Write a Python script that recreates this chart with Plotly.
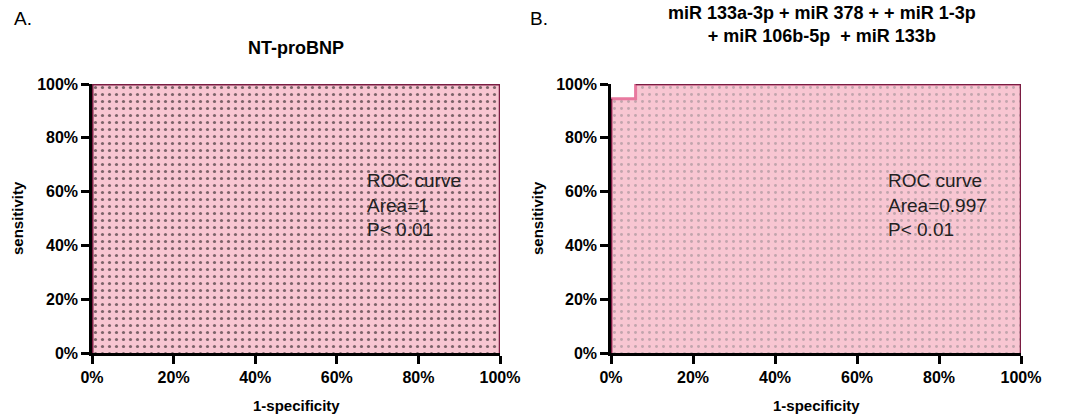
import plotly.graph_objects as go

# Data
fpr_a = [0, 0, 1]
tpr_a = [0, 1, 1]
fpr_b = [0, 0, 0.06, 0.06, 1]
tpr_b = [0, 0.945, 0.945, 1, 1]
tick_vals = [0, 0.2, 0.4, 0.6, 0.8, 1.0]
tick_text = ["0%", "20%", "40%", "60%", "80%", "100%"]
title_a = "NT-proBNP"
title_b = "miR 133a-3p + miR 378 + + miR 1-3p<br>+ miR 106b-5p  + miR 133b"
note_a = "ROC curve<br>Area=1<br>P< 0.01"
note_b = "ROC curve<br>Area=0.997<br>P< 0.01"

W, H = 1069, 415


def px(x):
    return x / W


def py(y):
    return 1 - y / H


fig = go.Figure()
fig.add_trace(go.Scatter(
    x=fpr_a, y=tpr_a, mode="lines", fill="tozeroy",
    line=dict(color="#7a1c42", width=3),
    fillcolor="#f8c6d2",
    fillpattern=dict(shape=".", fgcolor="#000000", bgcolor="#f8c6d2", size=7, solidity=0.16),
    xaxis="x", yaxis="y", showlegend=False, hoverinfo="skip"))
fig.add_trace(go.Scatter(
    x=fpr_b, y=tpr_b, mode="lines", fill="tozeroy",
    line=dict(color="#e8799f", width=3),
    fillcolor="#f8c6d2",
    fillpattern=dict(shape=".", fgcolor="#8c8488", bgcolor="#f8c6d2", size=7, solidity=0.14),
    xaxis="x2", yaxis="y2", showlegend=False, hoverinfo="skip"))
# dark edges
fig.add_trace(go.Scatter(
    x=[0.06, 1, 1], y=[1, 1, 0], mode="lines",
    line=dict(color="#7a1c42", width=2.5),
    xaxis="x2", yaxis="y2", showlegend=False, hoverinfo="skip"))
fig.add_trace(go.Scatter(
    x=[0, 0], y=[0, 0.945], mode="lines",
    line=dict(color="#7a1c42", width=2.5),
    xaxis="x2", yaxis="y2", showlegend=False, hoverinfo="skip"))
fig.add_trace(go.Scatter(
    x=[1, 1], y=[1, 0], mode="lines",
    line=dict(color="#7a1c42", width=2.5),
    xaxis="x", yaxis="y", showlegend=False, hoverinfo="skip"))

font_tick = dict(family="Arial, Liberation Sans, sans-serif", size=16, color="black", weight="bold")
axis_common = dict(
    range=[0, 1], tickvals=tick_vals, ticktext=tick_text, showgrid=False, zeroline=False,
    showline=True, linecolor="black", linewidth=2.5, ticks="outside", ticklen=8, tickwidth=3,
    tickcolor="black", tickfont=font_tick, layer="below traces", fixedrange=True,
    automargin=False)

ydom = [py(353), py(84)]
fig.update_layout(
    width=W, height=H, margin=dict(l=0, r=0, t=0, b=0),
    paper_bgcolor="white", plot_bgcolor="white",
    font=dict(family="Arial, Liberation Sans, sans-serif", color="black"),
    xaxis=dict(domain=[px(92), px(500)], anchor="y", **axis_common),
    yaxis=dict(domain=ydom, anchor="x", **axis_common),
    xaxis2=dict(domain=[px(611), px(1021)], anchor="y2", **axis_common),
    yaxis2=dict(domain=ydom, anchor="x2", **axis_common),
)

ann = [
    dict(text="A.", x=px(12), y=py(19), xref="paper", yref="paper", xanchor="left", yanchor="middle",
         showarrow=False, font=dict(size=19)),
    dict(text="B.", x=px(528), y=py(19), xref="paper", yref="paper", xanchor="left", yanchor="middle",
         showarrow=False, font=dict(size=19)),
    dict(text="<b>" + title_a + "</b>", x=px(296), y=py(48), xref="paper", yref="paper",
         xanchor="center", yanchor="middle", showarrow=False, font=dict(size=18)),
    dict(text="<b>" + title_b + "</b>", x=px(822), y=py(25), xref="paper", yref="paper",
         xanchor="center", yanchor="middle", showarrow=False, font=dict(size=18)),
    dict(text="<b>sensitivity</b>", x=px(17), y=py(218), xref="paper", yref="paper", textangle=-90,
         xanchor="center", yanchor="middle", showarrow=False, font=dict(size=15)),
    dict(text="<b>sensitivity</b>", x=px(537), y=py(218), xref="paper", yref="paper", textangle=-90,
         xanchor="center", yanchor="middle", showarrow=False, font=dict(size=15)),
    dict(text="<b>1-specificity</b>", x=px(296), y=py(405), xref="paper", yref="paper",
         xanchor="center", yanchor="middle", showarrow=False, font=dict(size=15)),
    dict(text="<b>1-specificity</b>", x=px(816), y=py(405), xref="paper", yref="paper",
         xanchor="center", yanchor="middle", showarrow=False, font=dict(size=15)),
    dict(text=note_a, x=px(365), y=py(205), xref="paper", yref="paper", xanchor="left", yanchor="middle",
         align="left", showarrow=False, font=dict(size=19, color="#222222")),
    dict(text=note_b, x=px(886), y=py(205), xref="paper", yref="paper", xanchor="left", yanchor="middle",
         align="left", showarrow=False, font=dict(size=19, color="#222222")),
]
fig.update_layout(annotations=ann)
fig.write_html("out.html", config={"displayModeBar": False},
               post_script="document.body.style.margin='0';")
